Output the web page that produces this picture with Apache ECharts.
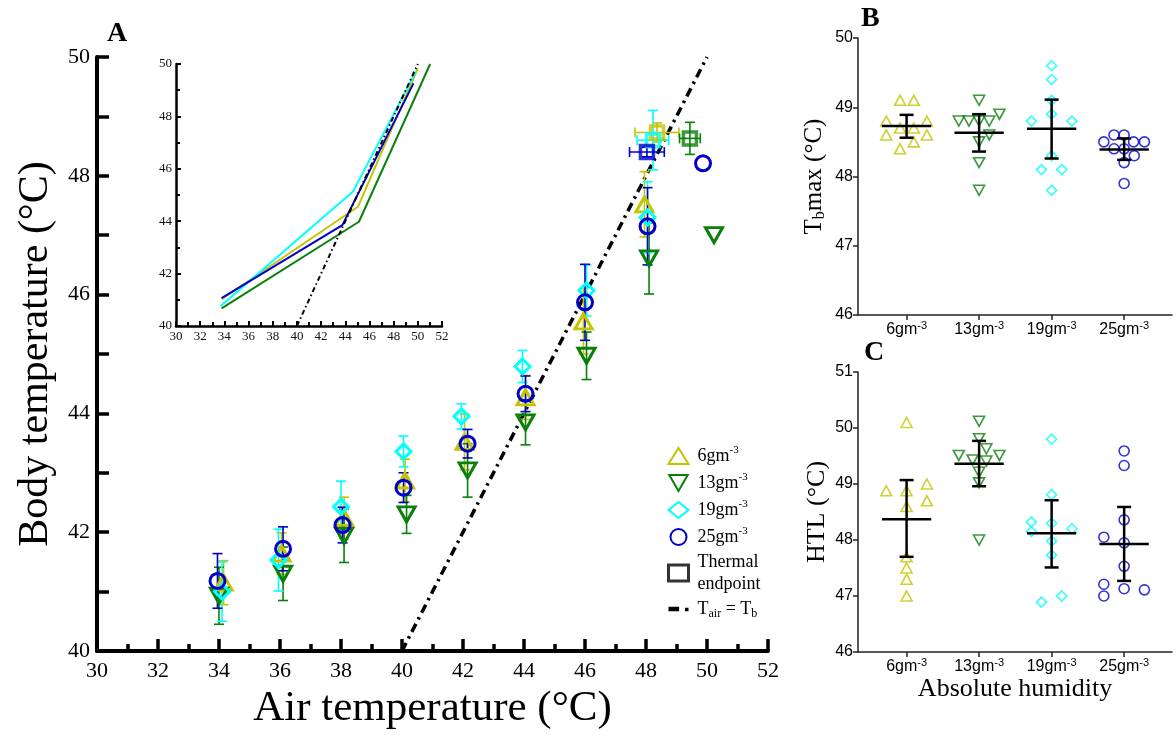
<!DOCTYPE html>
<html>
<head>
<meta charset="utf-8">
<script src="https://cdn.jsdelivr.net/npm/echarts@6/dist/echarts.min.js"></script>
<style>
html, body { margin: 0; padding: 0; background: #fff; }
#chart { width: 1176px; height: 736px; }
</style>
</head>
<body>
<div id="chart"></div>
<script>
// ---------- data ----------
const humidityLabels = ['6gm-3', '13gm-3', '19gm-3', '25gm-3'];
const groupColors = ['#c4c400', '#0a800a', '#00ffff', '#0000c8'];
// 13 gm-3 uses a downward-pointing triangle
const groupSymbols = ['triangle', 'path://M0,0L2,0L1,1.732Z', 'diamond', 'circle'];

// Panel A: body temperature (mean, SD) against air temperature
const tair6 = [34.15, 36.05, 38.1, 40.1, 42.05, 44.05, 45.95, 47.95];
const tb6 = [41.15, 41.64, 42.24, 42.87, 43.52, 44.27, 45.55, 47.52];
const sd6 = [0.37, 0.35, 0.35, 0.36, 0.47, 0.37, 0.55, 0.55];

const tair13 = [34.0, 36.1, 38.1, 40.15, 42.15, 44.05, 46.05, 48.1, 50.23];
const tb13 = [40.93, 41.3, 41.94, 42.3, 43.04, 43.85, 44.97, 46.61, 47.0];
const sd13 = [0.48, 0.45, 0.45, 0.32, 0.45, 0.38, 0.4, 0.6, null];

const tair19 = [34.1, 35.95, 38.0, 40.05, 41.95, 43.95, 46.05, 48.05];
const tb19 = [41.0, 41.53, 42.43, 43.36, 43.95, 44.79, 46.07, 47.3];
const sd19 = [0.5, 0.52, 0.43, 0.26, 0.21, 0.27, 0.43, 0.6];

const tair25 = [33.95, 36.1, 38.05, 40.05, 42.15, 44.05, 46.0, 48.05, 49.87];
const tb25 = [41.18, 41.72, 42.12, 42.75, 43.49, 44.33, 45.87, 47.15, 48.21];
const sd25 = [0.46, 0.37, 0.3, 0.25, 0.24, 0.3, 0.64, 0.65, null];

// thermal endpoints (air temperature and body temperature, mean and SD) per group
const endTair = [48.36, 49.44, 48.23, 48.03];
const endTairSd = [0.72, 0.34, 0.52, 0.57];
const endTb = [48.73, 48.63, 48.60, 48.40];
const endTbSd = [0.16, 0.27, 0.50, 0.08];

// Tair = Tb reference line
const identityLine = [[40, 40], [50, 50]];

// inset: fitted body temperature lines
const inset6 = [[33.77, 41.02], [45.05, 44.55], [50.0, 49.83]];
const inset13 = [[33.77, 40.67], [45.13, 43.98], [51.02, 50.0]];
const inset19 = [[33.69, 40.76], [44.64, 45.13], [49.84, 49.71]];
const inset25 = [[33.77, 41.06], [43.76, 43.85], [49.64, 49.26]];

// Panel B: Tbmax of individuals [value, horizontal jitter]
const tbmax6 = [[49.1, -0.09], [49.1, 0.1], [48.8, -0.28], [48.8, 0.28], [48.7, -0.09], [48.7, 0.1], [48.6, -0.28], [48.6, 0.28], [48.5, 0.1], [48.4, -0.09]];
const tbmax13 = [[49.1, 0], [48.8, -0.28], [48.8, -0.14], [48.8, 0], [48.8, 0.14], [48.9, 0.28], [48.5, 0], [48.6, 0.14], [48.2, 0], [47.8, 0]];
const tbmax19 = [[49.6, 0], [49.4, 0], [49.1, 0], [48.9, 0], [48.8, -0.28], [48.8, 0.28], [48.3, 0], [48.1, -0.14], [48.1, 0.14], [47.8, 0]];
const tbmax25 = [[48.6, -0.14], [48.6, 0], [48.5, -0.28], [48.5, 0.13], [48.5, 0.28], [48.4, -0.14], [48.4, 0], [48.3, 0.14], [48.2, 0], [47.9, 0]];
// mean, lower, upper
const tbmaxSummary = [[48.73, 48.56, 48.89], [48.63, 48.36, 48.90], [48.69, 48.26, 49.11], [48.39, 48.24, 48.55]];

// Panel C: HTL of individuals [value, horizontal jitter]
const htl6 = [[50.1, 0], [48.88, -0.28], [48.88, 0], [49.0, 0.28], [48.7, 0.28], [48.6, 0], [47.7, 0], [47.5, 0], [47.3, 0], [47.0, 0]];
const htl13 = [[50.12, 0], [49.81, 0], [49.51, -0.28], [49.51, 0.28], [49.63, 0.1], [49.43, -0.09], [49.41, 0.1], [49.21, 0], [49.02, 0], [48.0, 0]];
const htl19 = [[49.8, 0], [48.81, 0], [48.32, -0.28], [48.15, -0.28], [48.3, 0], [48.2, 0.28], [47.98, 0], [47.73, 0], [46.89, -0.14], [47.0, 0.14]];
const htl25 = [[49.59, 0], [49.33, 0], [48.36, 0], [48.05, -0.28], [47.95, 0], [47.53, 0], [47.21, -0.28], [47.0, -0.28], [47.13, 0], [47.11, 0.28]];
const htlSummary = [[48.37, 47.70, 49.07], [49.36, 48.96, 49.77], [48.12, 47.51, 48.71], [47.93, 47.27, 48.59]];

// ---------- helpers ----------
const SERIF = '"Liberation Serif", "Times New Roman", serif';
const SANS = '"Liberation Sans", Arial, sans-serif';

const mainGroups = [
  { x: tair6, y: tb6, sd: sd6 },
  { x: tair13, y: tb13, sd: sd13 },
  { x: tair19, y: tb19, sd: sd19 },
  { x: tair25, y: tb25, sd: sd25 }
];
const insetLines = [inset6, inset13, inset19, inset25];
const tbmaxPoints = [tbmax6, tbmax13, tbmax19, tbmax25];
const htlPoints = [htl6, htl13, htl19, htl25];

function vErrorBars(color, cap) {
  return function (params, api) {
    const x = api.value(0), y = api.value(1), e = api.value(2);
    const t = api.coord([x, y + e]);
    const b = api.coord([x, y - e]);
    const st = { stroke: color, lineWidth: 1.6, fill: null };
    return {
      type: 'group',
      children: [
        { type: 'line', shape: { x1: t[0], y1: t[1], x2: b[0], y2: b[1] }, style: st },
        { type: 'line', shape: { x1: t[0] - cap, y1: t[1], x2: t[0] + cap, y2: t[1] }, style: st },
        { type: 'line', shape: { x1: b[0] - cap, y1: b[1], x2: b[0] + cap, y2: b[1] }, style: st }
      ]
    };
  };
}

function endpointBars(params, api) {
  const x = api.value(0), y = api.value(1), ex = api.value(2), ey = api.value(3);
  const color = groupColors[api.value(4)];
  const st = { stroke: color, lineWidth: 1.6, fill: null };
  const l = api.coord([x - ex, y]), r = api.coord([x + ex, y]);
  const t = api.coord([x, y + ey]), b = api.coord([x, y - ey]);
  const cap = 5;
  return {
    type: 'group',
    children: [
      { type: 'line', shape: { x1: l[0], y1: l[1], x2: r[0], y2: r[1] }, style: st },
      { type: 'line', shape: { x1: l[0], y1: l[1] - cap, x2: l[0], y2: l[1] + cap }, style: st },
      { type: 'line', shape: { x1: r[0], y1: r[1] - cap, x2: r[0], y2: r[1] + cap }, style: st },
      { type: 'line', shape: { x1: t[0], y1: t[1], x2: b[0], y2: b[1] }, style: st },
      { type: 'line', shape: { x1: t[0] - cap, y1: t[1], x2: t[0] + cap, y2: t[1] }, style: st },
      { type: 'line', shape: { x1: b[0] - cap, y1: b[1], x2: b[0] + cap, y2: b[1] }, style: st }
    ]
  };
}

function summaryBars(params, api) {
  const c = api.value(0), m = api.value(1), lo = api.value(2), hi = api.value(3);
  const st = { stroke: '#000', lineWidth: 2.5, fill: null };
  const ml = api.coord([c - 0.34, m]), mr = api.coord([c + 0.34, m]);
  const t = api.coord([c, hi]), b = api.coord([c, lo]);
  const cap = 7;
  return {
    type: 'group',
    children: [
      { type: 'line', shape: { x1: ml[0], y1: ml[1], x2: mr[0], y2: mr[1] }, style: st },
      { type: 'line', shape: { x1: t[0], y1: t[1], x2: b[0], y2: b[1] }, style: st },
      { type: 'line', shape: { x1: t[0] - cap, y1: t[1], x2: t[0] + cap, y2: t[1] }, style: st },
      { type: 'line', shape: { x1: b[0] - cap, y1: b[1], x2: b[0] + cap, y2: b[1] }, style: st }
    ]
  };
}

function humidityLabel(v) {
  const name = humidityLabels[Math.round(v) - 1] || '';
  return '{a|' + name.replace('-3', '') + '}{s|-3}';
}

const humidityRich = {
  a: { fontFamily: SANS, fontSize: 16, color: '#000', lineHeight: 20 },
  s: { fontFamily: SANS, fontSize: 11, color: '#000', lineHeight: 10, verticalAlign: 'top' }
};

// ---------- axes ----------
function mainAxis(extra) {
  return Object.assign({
    type: 'value',
    splitLine: { show: false },
    axisLine: { show: true, onZero: false, lineStyle: { color: '#000', width: 4 } },
    axisTick: { show: true, inside: true, length: 12, lineStyle: { color: '#000', width: 3.5 } },
    minorTick: { show: true, splitNumber: 2, length: 7, lineStyle: { color: '#000', width: 3.5 } },
    axisLabel: { fontFamily: SERIF, fontSize: 22, color: '#000' }
  }, extra);
}

function insetAxis(extra) {
  return Object.assign({
    type: 'value',
    splitLine: { show: false },
    axisLine: { show: true, onZero: false, lineStyle: { color: '#000', width: 2.5 } },
    axisTick: { show: true, inside: true, length: 5, lineStyle: { color: '#000', width: 2 } },
    minorTick: { show: true, splitNumber: 2, length: 4, lineStyle: { color: '#000', width: 2 } },
    axisLabel: { fontFamily: SERIF, fontSize: 13, color: '#111', margin: 4 }
  }, extra);
}

function sideX(gridIndex, extra) {
  return Object.assign({
    type: 'value', gridIndex: gridIndex, min: 0.33, max: 4.66,
    splitLine: { show: false },
    axisLine: { show: true, onZero: false, lineStyle: { color: '#222', width: 1.5 } },
    axisTick: { show: true, customValues: [1, 2, 3, 4], length: 5, lineStyle: { color: '#222', width: 1.5 } },
    axisLabel: { customValues: [1, 2, 3, 4], formatter: humidityLabel, rich: humidityRich, margin: 5 }
  }, extra);
}

function sideY(gridIndex, min, max, extra) {
  return Object.assign({
    type: 'value', gridIndex: gridIndex, min: min, max: max, interval: 1,
    splitLine: { show: false },
    axisLine: { show: true, onZero: false, lineStyle: { color: '#222', width: 1.5 } },
    axisTick: { show: true, length: 5, lineStyle: { color: '#222', width: 1.5 } },
    axisLabel: { fontFamily: SANS, fontSize: 16, color: '#000', margin: 5 }
  }, extra);
}

// ---------- series ----------
const series = [];

// Panel A error bars and means
mainGroups.forEach((g, i) => {
  const errData = [];
  g.x.forEach((x, k) => { if (g.sd[k] != null) errData.push([x, g.y[k], g.sd[k]]); });
  series.push({
    type: 'custom', name: 'sd ' + humidityLabels[i], xAxisIndex: 0, yAxisIndex: 0,
    renderItem: vErrorBars(groupColors[i], 5), data: errData, encode: { x: 0, y: 1 }, z: 2, silent: true
  });
});
mainGroups.forEach((g, i) => {
  series.push({
    type: 'scatter', name: humidityLabels[i], xAxisIndex: 0, yAxisIndex: 0,
    symbol: groupSymbols[i],
    symbolSize: i < 2 ? [17, 15] : 15,
    itemStyle: { color: 'rgba(0,0,0,0)', borderColor: groupColors[i], borderWidth: 3, opacity: 1 },
    data: g.x.map((x, k) => [x, g.y[k]]), z: 3, silent: true
  });
});

// thermal endpoints
series.push({
  type: 'custom', name: 'endpoint sd', xAxisIndex: 0, yAxisIndex: 0, renderItem: endpointBars,
  data: endTair.map((x, i) => [x, endTb[i], endTairSd[i], endTbSd[i], i]), encode: { x: 0, y: 1 }, z: 2, silent: true
});
series.push({
  type: 'scatter', name: 'Thermal endpoint', xAxisIndex: 0, yAxisIndex: 0, symbol: 'rect', symbolSize: 13,
  itemStyle: { color: 'rgba(0,0,0,0)', borderColor: '#000', borderWidth: 3.5 },
  data: endTair.map((x, i) => ({ value: [x, endTb[i]], itemStyle: { borderColor: groupColors[i] } })),
  z: 3, silent: true
});

// Tair = Tb line
series.push({
  type: 'line', name: 'Tair = Tb', xAxisIndex: 0, yAxisIndex: 0, data: identityLine,
  showSymbol: false, symbol: 'none', color: '#000',
  lineStyle: { color: '#000', width: 3.5, type: [9, 5, 2.5, 5] }, z: 1, silent: true
});

// inset lines
insetLines.forEach((pts, i) => {
  series.push({
    type: 'line', name: 'fit ' + humidityLabels[i], xAxisIndex: 1, yAxisIndex: 1, data: pts,
    showSymbol: false, symbol: 'none', lineStyle: { color: groupColors[i], width: 2 }, z: 4, silent: true
  });
});
series.push({
  type: 'line', name: 'inset identity', xAxisIndex: 1, yAxisIndex: 1, data: identityLine,
  showSymbol: false, symbol: 'none', lineStyle: { color: '#000', width: 2, type: [5, 3, 1.5, 3] }, z: 5, silent: true
});

// Panels B and C
function sidePanel(points, summary, axisIndex, prefix) {
  points.forEach((pts, i) => {
    series.push({
      type: 'scatter', name: prefix + humidityLabels[i], xAxisIndex: axisIndex, yAxisIndex: axisIndex,
      symbol: groupSymbols[i],
      symbolSize: i < 2 ? [11, 10] : 10,
      itemStyle: { color: 'rgba(0,0,0,0)', borderColor: groupColors[i], borderWidth: 1.6 },
      data: pts.map(p => [i + 1 + p[1], p[0]]), z: 3, silent: true
    });
  });
  series.push({
    type: 'custom', name: prefix + 'summary', xAxisIndex: axisIndex, yAxisIndex: axisIndex,
    renderItem: summaryBars, data: summary.map((s, i) => [i + 1, s[0], s[1], s[2]]),
    encode: { x: 0, y: 1 }, z: 4, silent: true
  });
}
sidePanel(tbmaxPoints, tbmaxSummary, 2, 'tbmax ');
sidePanel(htlPoints, htlSummary, 3, 'htl ');

// ---------- chart ----------
const option = {
  animation: false,
  backgroundColor: '#fff',
  grid: [
    { left: 97, top: 57, width: 671, height: 594 },
    { left: 176, top: 64, width: 266, height: 262 },
    { left: 858, top: 38, width: 314, height: 277 },
    { left: 858, top: 372, width: 314, height: 280 }
  ],
  xAxis: [
    mainAxis({
      gridIndex: 0, min: 30, max: 52, interval: 2,
      name: 'Air temperature (°C)', nameLocation: 'middle', nameGap: 36,
      nameTextStyle: { fontFamily: SERIF, fontSize: 43, color: '#000' },
      axisLabel: { fontFamily: SERIF, fontSize: 22, color: '#000', margin: 9 }
    }),
    insetAxis({ gridIndex: 1, min: 30, max: 52, interval: 2 }),
    sideX(2),
    sideX(3, {
      name: 'Absolute humidity', nameLocation: 'middle', nameGap: 22,
      nameTextStyle: { fontFamily: SERIF, fontSize: 26, color: '#000' }
    })
  ],
  yAxis: [
    mainAxis({
      gridIndex: 0, min: 40, max: 50, interval: 2,
      minorTick: { show: true, splitNumber: 2, length: 12, lineStyle: { color: '#000', width: 3.5 } },
      name: 'Body temperature (°C)', nameLocation: 'middle', nameGap: 36,
      nameTextStyle: { fontFamily: SERIF, fontSize: 42, color: '#000' },
      axisLabel: { fontFamily: SERIF, fontSize: 22, color: '#000', margin: 7 }
    }),
    insetAxis({ gridIndex: 1, min: 40, max: 50, interval: 2 }),
    sideY(2, 46, 50, {
      name: '{t|T}{s|b}{t|max (°C)}', nameLocation: 'middle', nameGap: 30,
      nameTextStyle: {
        fontFamily: SERIF, fontSize: 25, color: '#000',
        rich: {
          t: { fontFamily: SERIF, fontSize: 25, color: '#000', lineHeight: 28 },
          s: { fontFamily: SERIF, fontSize: 16, color: '#000', lineHeight: 14, verticalAlign: 'bottom' }
        }
      }
    }),
    sideY(3, 46, 51, {
      name: 'HTL (°C)', nameLocation: 'middle', nameGap: 28,
      nameTextStyle: { fontFamily: SERIF, fontSize: 26, color: '#000' }
    })
  ],
  legend: {
    left: 662, top: 440, orient: 'vertical',
    itemWidth: 20, itemHeight: 16, itemGap: 7, selectedMode: false,
    data: [
      { name: '6gm-3' }, { name: '13gm-3' }, { name: '19gm-3' }, { name: '25gm-3' },
      { name: 'Thermal endpoint', icon: 'rect', itemStyle: { color: 'rgba(0,0,0,0)', borderColor: '#000', borderWidth: 3 } },
      { name: 'Tair = Tb', icon: 'path://M0,0h9v4h-9z M14,1h3v3h-3z', itemStyle: { color: '#000', borderWidth: 0 } }
    ],
    formatter: function (name) {
      if (name === 'Thermal endpoint') return '{t|Thermal}\n{t|endpoint}';
      if (name === 'Tair = Tb') return '{t|T}{sub|air}{t| = T}{sub|b}';
      return '{t|' + name.replace('-3', '') + '}{sup|-3}';
    },
    textStyle: {
      fontFamily: SERIF, fontSize: 18, color: '#000', padding: [0, 0, 0, 4],
      rich: {
        t: { fontFamily: SERIF, fontSize: 18, color: '#000', lineHeight: 22 },
        sup: { fontFamily: SERIF, fontSize: 11, color: '#000', lineHeight: 11, verticalAlign: 'top' },
        sub: { fontFamily: SERIF, fontSize: 12, color: '#000', lineHeight: 12, verticalAlign: 'bottom' }
      }
    }
  },
  graphic: [
    { type: 'text', left: 107, top: 20, style: { text: 'A', font: 'bold 28px ' + SERIF, fill: '#000' } },
    { type: 'text', left: 861, top: 5, style: { text: 'B', font: 'bold 28px ' + SERIF, fill: '#000' } },
    { type: 'text', left: 864, top: 339, style: { text: 'C', font: 'bold 28px ' + SERIF, fill: '#000' } }
  ],
  series: series
};

const chart = echarts.init(document.getElementById('chart'), null, { renderer: 'canvas' });
chart.setOption(option);
</script>
</body>
</html>
